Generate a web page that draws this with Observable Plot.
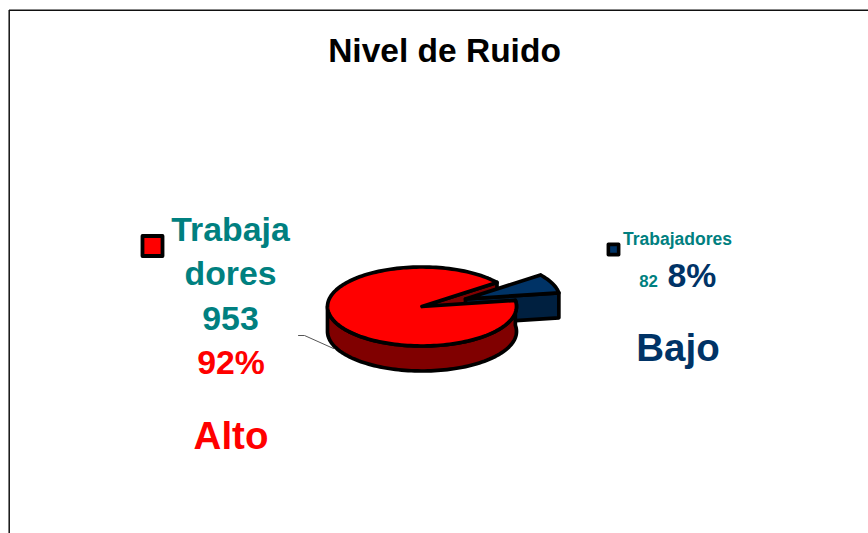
<!DOCTYPE html>
<html>
<head>
<meta charset="utf-8">
<style>html,body{margin:0;padding:0;background:#fff;overflow:hidden}svg{display:block}</style>
<script src="https://cdn.jsdelivr.net/npm/d3@7"></script>
<script src="https://cdn.jsdelivr.net/npm/@observablehq/plot@0.6"></script>
</head>
<body>
<div id="chart"></div>
<script>
const title = "Nivel de Ruido";
const categories = ["Alto", "Bajo"];
const workers = [953, 82];
const percents = ["92%", "8%"];
const topColors = ["#ff0000", "#003366"];
const sideColors = ["#800000", "#002040"];
const teal = "#008080";
const font = "Liberation Sans, Arial, sans-serif";

// Pie geometry (layout only): slice angles come from the workers values
const W = 868, H = 533;
const C = {x: 421.5, y: 306}, RX = 94.5, RY = 39.5, DEPTH = 25;
const EXPLODE = {x: 43.5, y: -7.5};
const START = 37.5; // degrees, counter-clockwise from the right
const total = d3.sum(workers);
const sweepAlto = workers[0] / total * 360;
const rad = d => d * Math.PI / 180;

function pt(o, deg, dz = 0) {
  return {x: o.x + RX * Math.cos(rad(deg)), y: o.y - RY * Math.sin(rad(deg)) + dz};
}
function arc(o, a, b, dz = 0) {
  const n = Math.max(2, Math.ceil(Math.abs(b - a) / 2));
  return d3.range(n + 1).map(i => pt(o, a + (b - a) * i / n, dz));
}
const close = pts => [...pts, pts[0]];

const endAlto = START + sweepAlto;          // end of Alto, start of Bajo
const O2 = {x: C.x + EXPLODE.x, y: C.y + EXPLODE.y};

const altoInnerWall = close([C, pt(C, START), pt(C, START, DEPTH), {x: C.x, y: C.y + DEPTH}]);
const altoSide = close([...arc(C, 180, endAlto), ...arc(C, endAlto, 180, DEPTH)]);
const altoTop = close([C, ...arc(C, START, endAlto)]);
const bajoEnd = START + 360;
const bajoWall = close([O2, pt(O2, endAlto), pt(O2, endAlto, DEPTH), {x: O2.x, y: O2.y + DEPTH}]);
const bajoTop = close([O2, ...arc(O2, endAlto, bajoEnd)]);

const face = (pts, fill) => Plot.line(pts, {x: "x", y: "y", fill, stroke: "#000", strokeWidth: 3.7, strokeLinejoin: "round", curve: "linear"});

const leader = [{x: 298, y: 335}, {x: 304, y: 335}, {x: 333, y: 348}];

const labels = [
  {t: "Trabaja", x: 230, y: 240.5, s: 33.8, c: teal},
  {t: "dores", x: 230, y: 284.5, s: 33.8, c: teal},
  {t: String(workers[0]), x: 230, y: 329.5, s: 33.8, c: teal},
  {t: percents[0], x: 230.5, y: 373.5, s: 33.8, c: topColors[0]},
  {t: categories[0], x: 230.5, y: 448, s: 38.5, c: topColors[0]},
  {t: "Trabajadores", x: 677, y: 244, s: 17.5, c: teal},
  {t: String(workers[1]), x: 648, y: 286, s: 16.8, c: teal},
  {t: percents[1], x: 691.5, y: 286, s: 33.8, c: topColors[1]},
  {t: categories[1], x: 677.5, y: 360, s: 38.5, c: topColors[1]},
  {t: title, x: 444, y: 61, s: 33.5, c: "#000"}
];
const swatches = [
  {x: 152, y: 245.5, r: 11.3, f: topColors[0], w: 3.8},
  {x: 613, y: 249, r: 5.8, f: topColors[1], w: 3.6}
];

const chart = Plot.plot({
  width: W, height: H,
  margin: 0,
  x: {domain: [0, W], range: [0, W], axis: null},
  y: {domain: [0, H], range: [0, H], axis: null},
  r: {type: "identity"},
  marks: [
    Plot.ruleX([8.7], {y1: 10, y2: H, stroke: "#111", strokeWidth: 1.5}),
    Plot.ruleY([9.8], {x1: 9, x2: W, stroke: "#111", strokeWidth: 1.5}),
    Plot.line(leader, {x: "x", y: "y", stroke: "#555", strokeWidth: 1, curve: "linear"}),
    face(altoInnerWall, sideColors[0]),
    face(bajoWall, sideColors[1]),
    face(bajoTop, topColors[1]),
    face(altoSide, sideColors[0]),
    face(altoTop, topColors[0]),
    Plot.dot(swatches, {x: "x", y: "y", r: "r", symbol: "square", fill: "f", stroke: "#000", strokeWidth: "w", strokeLinejoin: "round"}),
    ...labels.map(d => Plot.text([d], {
      x: "x", y: "y", text: "t", fill: d.c, fontSize: d.s, fontFamily: font,
      fontWeight: "bold", textAnchor: "middle", lineAnchor: "bottom"
    }))
  ],
  style: {background: "#fff"}
});
document.getElementById("chart").appendChild(chart);
</script>
</body>
</html>
